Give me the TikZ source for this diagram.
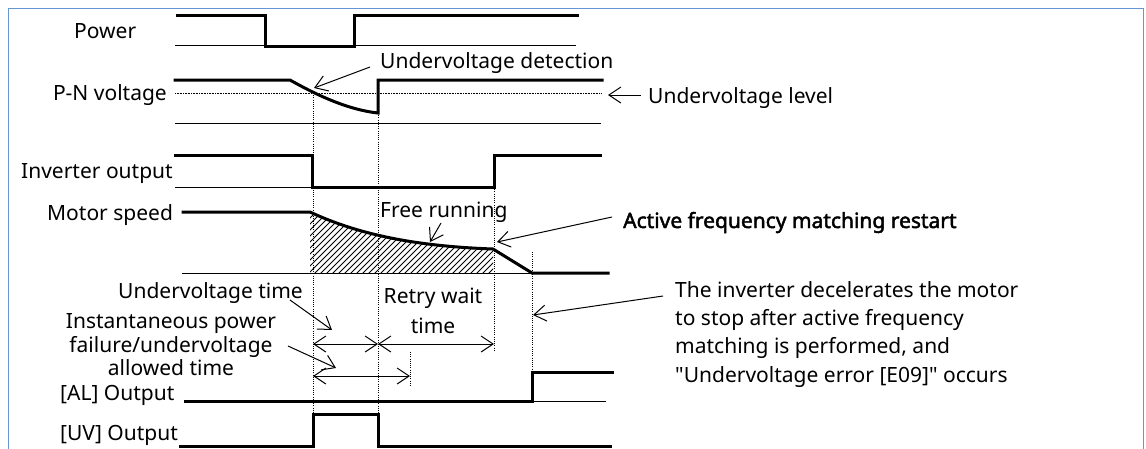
\documentclass[tikz,border=0pt]{standalone}
\usepackage{fontspec}
\setmainfont{Noto Sans}[Ligatures=TeXOff]
\newfontfamily\afmfont{Noto Sans}[FakeBold=2.2,Ligatures=TeXOff]
\usetikzlibrary{arrows.meta}
\definecolor{frameblue}{RGB}{100,150,210}
\begin{document}
\begin{tikzpicture}[x=1pt,y=-1pt,
  sig/.style={line width=3pt, line join=miter, line cap=rect},
  thinline/.style={line width=1pt},
  vdot/.style={line width=0.9pt, dash pattern=on 1pt off 1.2pt},
  arr/.style={line width=1pt, -{Straight Barb[length=12pt,width=16pt,line width=1pt]}},
  darr/.style={line width=1pt, {Straight Barb[length=12pt,width=16pt,line width=1pt]}-{Straight Barb[length=12pt,width=16pt,line width=1pt]}},
  lbl/.style={inner sep=0pt, font=\fontsize{21}{25}\selectfont},
  blbl/.style={inner sep=0pt, font=\fontsize{21}{25}\selectfont\afmfont},
]
\useasboundingbox (0,0) rectangle (1146,448);
\draw[frameblue, line width=1.5pt] (8.5,8.5) rectangle (1143.5,470);

% ---------- labels (left) ----------
\node[lbl, anchor=base west] (lpow) at (74,38) {Power};
\node[lbl, anchor=base east] (lpn) at (167,100) {P-N voltage};
\node[lbl, anchor=base west] (linv) at (21,178) {Inverter output};
\node[lbl, anchor=base west] (lmot) at (47,220) {Motor speed};
\node[lbl, anchor=base west] (lal) at (60,400) {[AL] Output};
\node[lbl, anchor=base west] (luv) at (60,440) {[UV] Output};

% ---------- Power ----------
\draw[thinline] (175,45) -- (576,45);
\draw[sig] (177,15) -- (265,15) -- (265,46) -- (354,46) -- (354,15) -- (577,15);

% ---------- P-N voltage ----------
\draw[thinline] (175,123) -- (601,123);
\draw[line width=0.8pt, dash pattern=on 0.8pt off 0.8pt] (175,93) -- (602,93);
\draw[sig] (175,80) -- (290,80) .. controls (320,97) and (350,110) .. (378,113) -- (378,80) -- (602,80);

% ---------- Inverter output ----------
\draw[thinline] (175,187) -- (494,187);
\draw[sig] (175,155) -- (312,155) -- (312,187) -- (494,187) -- (494,155) -- (600,155);

% ---------- Motor speed ----------
\begin{scope}
\clip (310,273) -- (310,212) .. controls (355,233) and (410,246) .. (493,249) -- (493,273) -- cycle;
\foreach \i in {200,206,...,510} \draw[line width=0.9pt] (\i,280) -- ++(80,-80);
\end{scope}
\draw[thinline] (182,273) -- (608,273);
\draw[sig] (183,212) -- (310,212) .. controls (355,233) and (410,246) .. (493,249) -- (532,273) -- (608,273);

% ---------- AL output ----------
\draw[thinline] (532,401) -- (606,401);
\draw[sig] (185,401) -- (532,401) -- (532,372) -- (612,372);

% ---------- UV output ----------
\draw[sig] (180,446) -- (313,446) -- (313,414) -- (378,414) -- (378,446) -- (610,446);

% ---------- dotted verticals ----------
\draw[vdot] (313,93) -- (313,448);
\draw[vdot] (378,113) -- (378,448);
\draw[vdot] (494,187) -- (494,350);
\draw[vdot] (532,252) -- (532,372);
\draw[vdot] (410,352) -- (410,387);

% ---------- time spans ----------
\coordinate (t0) at (313,344);
\coordinate (t1) at (378,344);
\coordinate (t2) at (494,344);
\coordinate (a0) at (313,376);
\coordinate (a1) at (410,376);
\draw[darr] (t0) -- (t1);
\draw[darr] (t1) -- (t2);
\draw[darr] (a0) -- (a1);

% ---------- annotations ----------
\node[lbl, anchor=base west] (uvdet) at (380,68) {Undervoltage detection};
\coordinate (uvdetS) at (370,67);
\coordinate (uvdetT) at (314,88);
\draw[arr] (uvdetS) -- (uvdetT);

\node[lbl, anchor=base west] (uvlev) at (648,103) {Undervoltage level};
\coordinate (uvlevS) at (641,95);
\coordinate (uvlevT) at (608,95);
\draw[arr] (uvlevS) -- (uvlevT);

\node[lbl, anchor=base west] (free) at (380,217) {Free running};
\coordinate (freeS) at (441,223);
\coordinate (freeT) at (430,242);
\draw[arr] (freeS) -- (freeT);

\node[blbl, anchor=base west] (afm) at (623,228) {Active frequency matching restart};
\coordinate (afmS) at (612,217);
\coordinate (afmT) at (497,242);
\draw[arr] (afmS) -- (afmT);

\node[lbl, anchor=base east] (uvt) at (303,298) {Undervoltage time};
\coordinate (uvtS) at (290,300);
\coordinate (uvtT) at (332,330);
\draw[arr] (uvtS) -- (uvtT);

\node[lbl, anchor=base] (ipf1) at (171,328) {Instantaneous power};
\node[lbl, anchor=base] (ipf2) at (171,352) {failure/undervoltage};
\node[lbl, anchor=base] (ipf3) at (171,375) {allowed time};
\coordinate (ipfS) at (288,346);
\coordinate (ipfT) at (336,368);
\draw[arr] (ipfS) -- (ipfT);

\node[lbl, anchor=base] (rw1) at (433,303) {Retry wait};
\node[lbl, anchor=base] (rw2) at (433,333) {time};

\node[lbl, anchor=base west] (d1) at (675,297) {The inverter decelerates the motor};
\node[lbl, anchor=base west] (d2) at (675,325) {to stop after active frequency};
\node[lbl, anchor=base west] (d3) at (675,353) {matching is performed, and};
\node[lbl, anchor=base west] (d4) at (675,382) {"Undervoltage error [E09]" occurs};
\coordinate (dS) at (663,296);
\coordinate (dT) at (533,315);
\draw[arr] (dS) -- (dT);
\end{tikzpicture}
\end{document}
